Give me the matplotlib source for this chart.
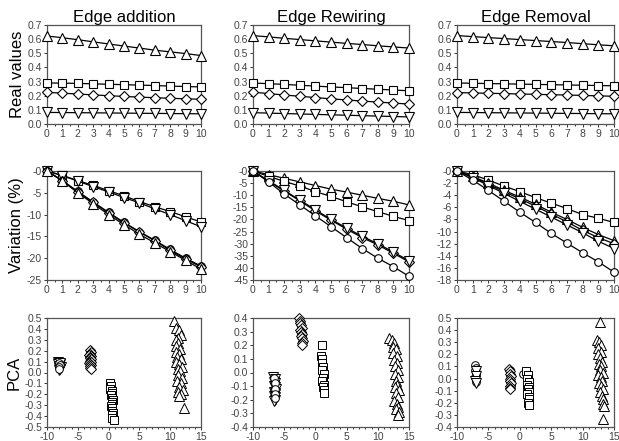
import numpy as np
import matplotlib
matplotlib.use("Agg")
import matplotlib.pyplot as plt
from matplotlib.ticker import MultipleLocator, FixedLocator, FuncFormatter

plt.rcParams['font.family'] = ['Liberation Sans', 'DejaVu Sans']
plt.rcParams['axes.unicode_minus'] = False

# ---------------------------------------------------------------- data
steps = list(range(11))
titles = ["Edge addition", "Edge Rewiring", "Edge Removal"]

# Real values of the four measures
real_add_tri = [0.622, 0.610, 0.596, 0.581, 0.566, 0.551, 0.537, 0.522, 0.510, 0.498, 0.484]
real_add_sq = [0.290, 0.289, 0.287, 0.284, 0.281, 0.278, 0.275, 0.272, 0.268, 0.265, 0.262]
real_add_dia = [0.224, 0.218, 0.212, 0.206, 0.200, 0.195, 0.190, 0.186, 0.182, 0.178, 0.175]
real_add_dn = [0.082, 0.081, 0.080, 0.079, 0.078, 0.077, 0.076, 0.075, 0.074, 0.073, 0.072]

real_rew_tri = [0.625, 0.616, 0.606, 0.597, 0.588, 0.579, 0.570, 0.562, 0.553, 0.545, 0.537]
real_rew_sq = [0.290, 0.285, 0.280, 0.274, 0.268, 0.262, 0.257, 0.251, 0.246, 0.240, 0.235]
real_rew_dia = [0.225, 0.215, 0.205, 0.196, 0.187, 0.178, 0.170, 0.162, 0.155, 0.148, 0.141]
real_rew_dn = [0.080, 0.077, 0.074, 0.071, 0.068, 0.065, 0.062, 0.059, 0.056, 0.053, 0.050]

real_rem_tri = [0.625, 0.618, 0.611, 0.604, 0.597, 0.590, 0.583, 0.576, 0.568, 0.560, 0.553]
real_rem_sq = [0.290, 0.288, 0.286, 0.284, 0.282, 0.280, 0.278, 0.276, 0.274, 0.272, 0.270]
real_rem_dia = [0.222, 0.220, 0.217, 0.215, 0.212, 0.210, 0.207, 0.205, 0.202, 0.199, 0.196]
real_rem_dn = [0.082, 0.081, 0.080, 0.079, 0.078, 0.077, 0.076, 0.075, 0.074, 0.073, 0.072]

# Variation (%) of the five measures
var_add_sq = [0, -1.0, -2.2, -3.3, -4.5, -5.7, -7.0, -8.2, -9.3, -10.5, -11.7]
var_add_dn = [0, -1.1, -2.3, -3.6, -4.8, -6.1, -7.3, -8.7, -10.0, -11.4, -12.8]
var_add_tri = [0, -2.3, -5.0, -7.5, -10.0, -12.3, -14.5, -16.5, -18.5, -20.5, -22.5]
var_add_dia = [0, -2.2, -4.8, -7.2, -9.6, -11.9, -14.0, -16.0, -18.2, -20.2, -22.0]
var_add_cir = [0, -2.2, -4.7, -7.1, -9.5, -11.8, -13.9, -15.9, -18.0, -20.0, -21.8]

var_rew_tri = [0, -1.5, -3.0, -4.5, -6.0, -7.5, -8.7, -10.0, -11.3, -12.5, -14.0]
var_rew_sq = [0, -2.2, -4.3, -6.2, -8.5, -10.5, -12.7, -14.8, -16.8, -18.7, -20.5]
var_rew_dn = [0, -4.0, -8.0, -12.0, -16.0, -20.0, -23.5, -27.0, -30.0, -33.5, -37.0]
var_rew_dia = [0, -4.2, -8.3, -12.3, -16.5, -20.3, -24.0, -27.5, -30.5, -34.0, -37.5]
var_rew_cir = [0, -4.5, -9.5, -14.0, -18.5, -23.0, -27.5, -32.0, -36.0, -39.5, -43.5]

var_rem_sq = [0, -0.6, -1.5, -2.5, -3.4, -4.4, -5.3, -6.2, -7.2, -7.8, -8.5]
var_rem_tri = [0, -0.9, -2.0, -3.2, -4.3, -5.5, -6.8, -8.0, -9.3, -10.5, -11.5]
var_rem_dia = [0, -1.0, -2.2, -3.4, -4.6, -5.8, -7.1, -8.4, -9.8, -11.0, -12.0]
var_rem_dn = [0, -1.1, -2.4, -3.7, -5.0, -6.3, -7.6, -8.9, -10.2, -11.6, -12.8]
var_rem_cir = [0, -1.5, -3.2, -5.0, -6.8, -8.5, -10.3, -11.9, -13.5, -15.0, -16.7]

# PCA projections (first component, second component)
pca_add_dn_x = [-8.2, -8.0, -7.9, -8.1, -8.0, -7.8, -8.2, -8.0, -7.9, -8.1, -8.0, -7.9]
pca_add_dn_y = [0.10, 0.09, 0.08, 0.07, 0.06, 0.05, 0.08, 0.04, 0.03, 0.06, 0.02, 0.09]
pca_add_cir_x = [-8.0, -7.9, -8.1, -8.0]
pca_add_cir_y = [0.09, 0.07, 0.05, 0.03]
pca_add_dia_x = [-3.1, -2.9, -3.0, -3.2, -2.8, -3.0, -3.1, -2.9, -3.0, -2.8, -3.2, -3.0, -2.9, -3.1, -3.0, -2.9]
pca_add_dia_y = [0.21, 0.19, 0.17, 0.16, 0.15, 0.14, 0.13, 0.12, 0.11, 0.10, 0.09, 0.08, 0.07, 0.06, 0.04, 0.03]
pca_add_sq_x = [0.2, 0.4, 0.3, 0.5, 0.6, 0.4, 0.5, 0.7, 0.5, 0.6, 0.4, 0.6, 0.5, 0.7, 0.6, 0.5, 0.8]
pca_add_sq_y = [-0.10, -0.12, -0.15, -0.17, -0.19, -0.21, -0.23, -0.25, -0.27, -0.29, -0.31, -0.33, -0.35,
                -0.37, -0.39, -0.42, -0.44]
pca_add_tri_x = [10.6, 11.0, 11.5, 11.7, 11.2, 10.9, 11.3, 11.0, 11.6, 10.9, 11.4, 11.1, 11.8, 11.0, 11.5,
                 11.9, 11.2, 11.6, 11.3, 11.9, 11.1, 11.7, 11.4, 12.0, 11.2, 11.8, 11.5, 12.2]
pca_add_tri_y = [0.47, 0.41, 0.39, 0.34, 0.32, 0.30, 0.27, 0.24, 0.22, 0.19, 0.17, 0.14, 0.12, 0.10, 0.08,
                 0.05, 0.03, 0.01, -0.02, -0.05, -0.08, -0.10, -0.13, -0.16, -0.18, -0.20, -0.22, -0.33]

pca_rew_dn_x = [-6.8, -6.5, -6.6, -6.4, -6.7, -6.5, -6.3, -6.6, -6.5, -6.4, -6.7, -6.5, -6.4, -6.6]
pca_rew_dn_y = [-0.03, -0.05, -0.07, -0.08, -0.10, -0.11, -0.12, -0.14, -0.15, -0.16, -0.17, -0.18, -0.20, -0.21]
pca_rew_cir_x = [-6.6, -6.5, -6.5, -6.4, -6.5, -2.4, -2.3, -2.2, -2.2, -2.1]
pca_rew_cir_y = [-0.04, -0.08, -0.12, -0.16, -0.19, 0.37, 0.33, 0.29, 0.26, 0.22]
pca_rew_dia_x = [-2.6, -2.4, -2.5, -2.3, -2.2, -2.4, -2.3, -2.1, -2.3, -2.2, -2.0, -2.2, -2.1]
pca_rew_dia_y = [0.40, 0.38, 0.36, 0.35, 0.33, 0.31, 0.30, 0.28, 0.27, 0.25, 0.23, 0.22, 0.20]
pca_rew_sq_x = [1.0, 0.9, 1.1, 1.0, 1.2, 1.1, 1.3, 1.2, 1.0, 1.3, 1.2, 1.4, 1.3]
pca_rew_sq_y = [0.20, 0.12, 0.10, 0.07, 0.04, 0.02, -0.01, -0.04, -0.06, -0.09, -0.11, -0.13, -0.15]
pca_rew_tri_x = [11.8, 12.3, 12.6, 12.4, 12.9, 12.5, 13.0, 12.6, 13.1, 12.7, 13.2, 12.8, 13.3, 12.9, 13.1,
                 12.7, 13.4, 12.9, 13.2, 12.6, 13.0, 13.3, 12.9, 13.4, 13.2]
pca_rew_tri_y = [0.25, 0.24, 0.22, 0.19, 0.17, 0.14, 0.12, 0.09, 0.07, 0.05, 0.02, -0.01, -0.03, -0.06, -0.09,
                 -0.11, -0.13, -0.15, -0.18, -0.21, -0.23, -0.25, -0.27, -0.29, -0.31]

pca_rem_cir_x = [-7.2, -7.0, -7.1, -6.9, -7.0, -7.1, -6.9, -7.0, -1.6, -1.5, -1.5, -1.4, 0.5]
pca_rem_cir_y = [0.11, 0.09, 0.07, 0.05, 0.03, 0.01, -0.01, -0.03, 0.07, 0.03, -0.01, -0.05, 0.04]
pca_rem_dn_x = [-7.0, -6.9, -7.1, -7.0]
pca_rem_dn_y = [0.06, 0.02, -0.02, -0.04]
pca_rem_dia_x = [-1.7, -1.5, -1.6, -1.4, -1.5, -1.6, -1.4, -1.5, -1.6, -1.5]
pca_rem_dia_y = [0.08, 0.06, 0.04, 0.02, 0.00, -0.02, -0.04, -0.06, -0.08, -0.09]
pca_rem_sq_x = [1.0, 1.3, 1.1, 1.4, 1.2, 1.5, 1.3, 1.4, 1.2, 1.5, 1.4, 1.3, 1.5]
pca_rem_sq_y = [0.06, 0.03, 0.00, -0.03, -0.05, -0.07, -0.09, -0.11, -0.13, -0.15, -0.17, -0.20, -0.22]
pca_rem_tri_x = [12.7, 12.3, 12.6, 12.9, 12.5, 13.0, 12.4, 12.8, 13.1, 12.6, 13.0, 12.7, 13.2, 12.5, 12.9,
                 13.1, 12.6, 13.0, 13.3, 12.8, 13.1, 13.3, 13.2, 13.4, 13.2]
pca_rem_tri_y = [0.47, 0.32, 0.30, 0.28, 0.25, 0.22, 0.20, 0.17, 0.14, 0.12, 0.10, 0.07, 0.05, 0.03, 0.01,
                 -0.02, -0.04, -0.06, -0.09, -0.11, -0.14, -0.17, -0.21, -0.23, -0.33]

# ---------------------------------------------------------------- layout
W, H = 619, 441
fig = plt.figure(figsize=(W / 100, H / 100), dpi=100)

col_x = [(47, 201), (253, 409), (457, 614)]
row_y = [(25, 124), (171, 280), (318, 427)]

TICK_COLOR = "#333333"
LABEL_COLOR = "#444444"
MARKER_SIZE = {"s": 5.5, "o": 5.5, "D": 5.0, "^": 6.5, "v": 6.5}


def make_axes(r, c):
    (x0, x1), (y0, y1) = col_x[c], row_y[r]
    ax = fig.add_axes([x0 / W, 1 - y1 / H, (x1 - x0) / W, (y1 - y0) / H])
    for s in ax.spines.values():
        s.set_color("#555555")
        s.set_linewidth(0.9)
    ax.tick_params(which="both", direction="out", colors=TICK_COLOR, labelcolor=LABEL_COLOR,
                   labelsize=7.5, width=0.7, pad=1)
    ax.tick_params(which="major", length=2.5)
    ax.tick_params(which="minor", length=1.5)
    return ax


def line(ax, y, marker):
    ax.plot(steps, y, color="black", lw=0.9, marker=marker, ms=MARKER_SIZE[marker], mfc="white",
            mec="black", mew=0.8, clip_on=False, zorder=3)


def pts(ax, x, y, marker):
    ax.plot(x, y, ls="none", marker=marker, ms=MARKER_SIZE[marker], mfc="white", mec="black",
            mew=0.7, clip_on=False, zorder=3)


fmt1 = FuncFormatter(lambda v, p: f"{v:.1f}" if abs(v) > 1e-9 else "0.0")
fmt_int = FuncFormatter(lambda v, p: "-0" if abs(v) < 1e-9 else f"{int(round(v))}")

real_sets = [
    (real_add_tri, real_add_sq, real_add_dia, real_add_dn),
    (real_rew_tri, real_rew_sq, real_rew_dia, real_rew_dn),
    (real_rem_tri, real_rem_sq, real_rem_dia, real_rem_dn),
]
var_sets = [
    [(var_add_sq, "s"), (var_add_dn, "v"), (var_add_cir, "o"), (var_add_dia, "D"), (var_add_tri, "^")],
    [(var_rew_tri, "^"), (var_rew_sq, "s"), (var_rew_dia, "D"), (var_rew_dn, "v"), (var_rew_cir, "o")],
    [(var_rem_sq, "s"), (var_rem_tri, "^"), (var_rem_dia, "D"), (var_rem_dn, "v"), (var_rem_cir, "o")],
]
var_limits = [(-25, 5), (-45, 5), (-18, 2)]
pca_sets = [
    [(pca_add_dn_x, pca_add_dn_y, "v"), (pca_add_cir_x, pca_add_cir_y, "o"),
     (pca_add_dia_x, pca_add_dia_y, "D"), (pca_add_sq_x, pca_add_sq_y, "s"),
     (pca_add_tri_x, pca_add_tri_y, "^")],
    [(pca_rew_dn_x, pca_rew_dn_y, "v"), (pca_rew_cir_x, pca_rew_cir_y, "o"),
     (pca_rew_dia_x, pca_rew_dia_y, "D"), (pca_rew_sq_x, pca_rew_sq_y, "s"),
     (pca_rew_tri_x, pca_rew_tri_y, "^")],
    [(pca_rem_cir_x, pca_rem_cir_y, "o"), (pca_rem_dn_x, pca_rem_dn_y, "v"),
     (pca_rem_dia_x, pca_rem_dia_y, "D"), (pca_rem_sq_x, pca_rem_sq_y, "s"),
     (pca_rem_tri_x, pca_rem_tri_y, "^")],
]
pca_limits = [(-0.5, 0.5), (-0.4, 0.4), (-0.4, 0.5)]

for c in range(3):
    # real values
    ax = make_axes(0, c)
    tri, sq, dia, dn = real_sets[c]
    line(ax, sq, "s")
    line(ax, dia, "D")
    line(ax, dn, "v")
    line(ax, tri, "^")
    ax.set_xlim(0, 10)
    ax.set_ylim(0, 0.7)
    ax.xaxis.set_major_locator(MultipleLocator(1))
    ax.xaxis.set_minor_locator(MultipleLocator(0.5))
    ax.yaxis.set_major_locator(MultipleLocator(0.1))
    ax.yaxis.set_major_formatter(fmt1)
    ax.set_title(titles[c], fontsize=12, pad=2)
    if c == 0:
        ax.set_ylabel("Real values", fontsize=12, labelpad=2)

    # variation
    ax = make_axes(1, c)
    for y, m in var_sets[c]:
        line(ax, y, m)
    lo, step = var_limits[c]
    ax.set_xlim(0, 10)
    ax.set_ylim(lo, 0)
    ax.xaxis.set_major_locator(MultipleLocator(1))
    ax.xaxis.set_minor_locator(MultipleLocator(0.5))
    ax.yaxis.set_major_locator(FixedLocator(np.arange(lo, 0.1, step)))
    ax.yaxis.set_major_formatter(fmt_int)
    if c == 0:
        ax.set_ylabel("Variation (%)", fontsize=12, labelpad=2)

    # PCA
    ax = make_axes(2, c)
    for x, y, m in pca_sets[c]:
        pts(ax, x, y, m)
    ax.set_xlim(-10, 15)
    ylo, yhi = pca_limits[c]
    ax.set_ylim(ylo, yhi)
    ax.xaxis.set_major_locator(MultipleLocator(5))
    ax.xaxis.set_minor_locator(MultipleLocator(1))
    ax.yaxis.set_major_locator(MultipleLocator(0.1))
    ax.yaxis.set_major_formatter(fmt1)
    if c == 0:
        ax.set_ylabel("PCA", fontsize=12, labelpad=2)

fig.savefig("out.png", dpi=100, facecolor="white")
